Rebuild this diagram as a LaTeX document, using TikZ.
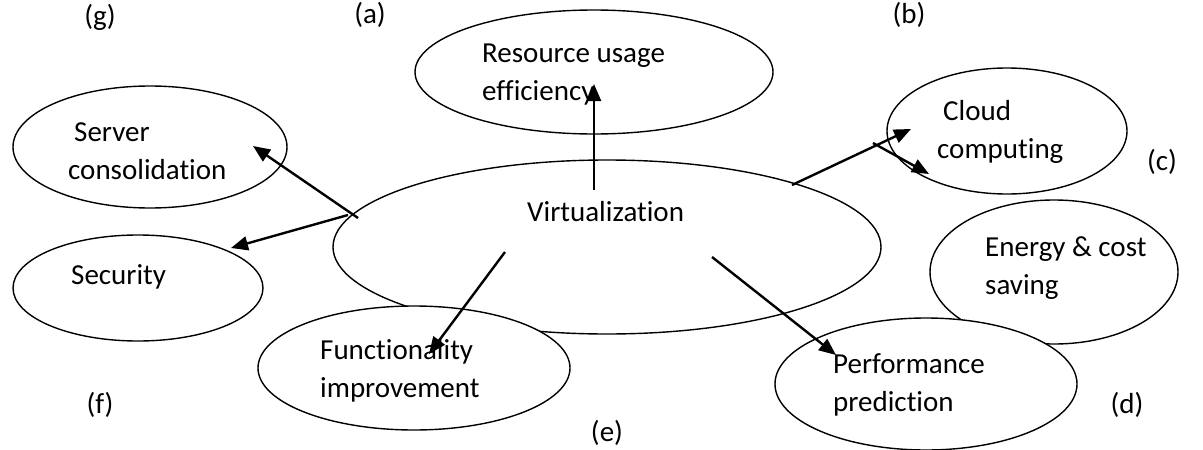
\documentclass[tikz,border=0pt]{standalone}
\usepackage{fontspec}
\setmainfont[Ligatures={NoCommon}]{Carlito}
\usetikzlibrary{arrows.meta,shapes.geometric}
\begin{document}
\begin{tikzpicture}[x=1pt,y=-1pt,
  bubble/.style={ellipse,draw,line width=1.4pt,fill=white,inner sep=0pt},
  txt/.style={font=\fontsize{29}{38}\selectfont,align=left,inner sep=0pt,anchor=west},
  lbl/.style={font=\fontsize{29}{34}\selectfont,inner sep=0pt},
  arr/.style={line width=2.4pt,-{Triangle[length=17pt,width=14pt]}}]
\useasboundingbox (0,0) rectangle (1203,450);
% ellipses
\node[bubble,minimum width=548pt,minimum height=174pt] (virt) at (607,247) {};
\node[bubble,minimum width=358pt,minimum height=124pt] (res) at (594,72) {};
\node[bubble,minimum width=240pt,minimum height=126pt] (cloud) at (1007,131) {};
\node[bubble,minimum width=274pt,minimum height=122pt] (server) at (150,147) {};
\node[bubble,minimum width=250pt,minimum height=106pt] (sec) at (138,288) {};
\node[bubble,minimum width=312pt,minimum height=124pt] (func) at (414,368) {};
\node[bubble,minimum width=248pt,minimum height=144pt] (energy) at (1054,272) {};
\node[bubble,minimum width=302pt,minimum height=132pt] (perf) at (926,384) {};
% texts
\node[txt] (tvirt) at (527,212) {Virtualization};
\node[txt] (tres) at (482,75) {Resource usage\\efficiency};
\node[txt] (tcloud) at (937,132) {\hspace{6pt}Cloud\\computing};
\node[txt] (tserver) at (68,151) {\hspace{6pt}Server\\consolidation};
\node[txt] (tsec) at (71,277) {Security};
\node[txt] (tfunc) at (320,371) {Functionality\\improvement};
\node[txt] (tenergy) at (985,268) {Energy \& cost\\saving};
\node[txt] (tperf) at (833,385) {Performance\\prediction};
% labels
\node[lbl] (la) at (370,15) {(a)};
\node[lbl] (lb) at (909,15) {(b)};
\node[lbl] (lc) at (1162,162) {(c)};
\node[lbl] (ld) at (1127,405) {(d)};
\node[lbl] (le) at (607,433) {(e)};
\node[lbl] (lf) at (100,405) {(f)};
\node[lbl] (lg) at (100,17) {(g)};
% arrow end points
\coordinate (a1s) at (594,190); \coordinate (a1e) at (594,84);
\coordinate (a2s) at (792,185); \coordinate (a2e) at (911,129);
\coordinate (a3s) at (873,143); \coordinate (a3e) at (929,174);
\coordinate (a4s) at (712,257); \coordinate (a4e) at (836,355);
\coordinate (a5s) at (505,252); \coordinate (a5e) at (429,354);
\coordinate (a6s) at (358,218); \coordinate (a6e) at (253,146);
\coordinate (a7s) at (348,215); \coordinate (a7e) at (231,248);
% arrows
\draw[arr] (a1s) -- (a1e);
\draw[arr] (a2s) -- (a2e);
\draw[arr] (a3s) -- (a3e);
\draw[arr] (a4s) -- (a4e);
\draw[arr] (a5s) -- (a5e);
\draw[arr] (a6s) -- (a6e);
\draw[arr] (a7s) -- (a7e);
\end{tikzpicture}
\end{document}
